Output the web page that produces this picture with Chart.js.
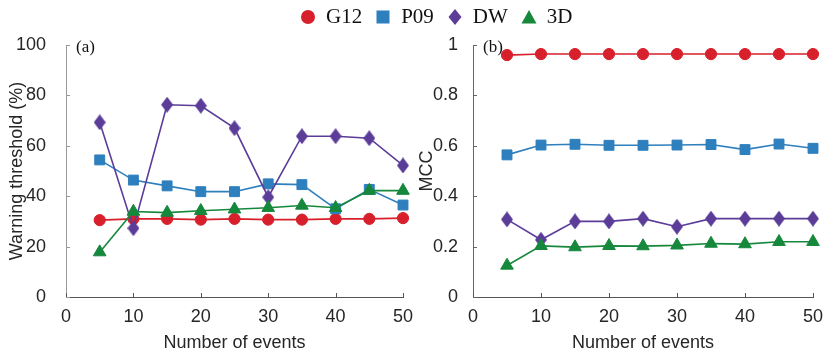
<!DOCTYPE html>
<html>
<head>
<meta charset="utf-8">
<script src="https://cdn.jsdelivr.net/npm/chart.js@4/dist/chart.umd.min.js"></script>
<style>
  html, body { margin: 0; padding: 0; background: #fff; }
  #wrap { position: relative; width: 830px; height: 356px; overflow: hidden; }
  #c1 { position: absolute; left: 0; top: 0; }
  #c2 { position: absolute; left: 415px; top: 0; }
  #legend { position: absolute; top: 4px; left: 300px; white-space: nowrap;
            font-family: "Liberation Serif", "Times New Roman", serif; font-size: 21px; color: #111; }
  #legend span.item { display: inline-flex; align-items: center; margin-right: 13px; }
  #legend svg { margin-right: 10px; }
</style>
</head>
<body>
<div id="wrap">
  <canvas id="c1" width="415" height="356"></canvas>
  <canvas id="c2" width="415" height="356"></canvas>
  <div id="legend"></div>
</div>
<script>
// ---- data ----
const events = [5, 10, 15, 20, 25, 30, 35, 40, 45, 50];
const seriesNames = ['G12', 'P09', 'DW', '3D'];

const thrG12 = [30.5, 31.0, 31.0, 30.7, 31.0, 30.7, 30.7, 31.0, 31.0, 31.3];
const thrP09 = [54.4, 46.4, 44.1, 41.8, 41.8, 44.9, 44.6, 35.0, 42.7, 36.5];
const thrDW  = [69.3, 27.3, 76.3, 75.9, 67.0, 39.6, 63.8, 63.8, 63.0, 52.2];
const thr3D  = [17.8, 33.9, 33.5, 34.2, 34.8, 35.4, 36.3, 35.4, 42.2, 42.2];

const mccG12 = [0.960, 0.964, 0.964, 0.964, 0.964, 0.964, 0.964, 0.964, 0.964, 0.964];
const mccP09 = [0.564, 0.603, 0.606, 0.602, 0.602, 0.603, 0.605, 0.585, 0.607, 0.590];
const mccDW  = [0.308, 0.227, 0.300, 0.300, 0.311, 0.279, 0.311, 0.311, 0.311, 0.311];
const mcc3D  = [0.125, 0.203, 0.198, 0.203, 0.202, 0.205, 0.212, 0.210, 0.219, 0.219];

const xTicks = [0, 10, 20, 30, 40, 50];
const thrTicks = [0, 20, 40, 60, 80, 100];
const mccTicks = [0, 0.2, 0.4, 0.6, 0.8, 1];

// ---- styles ----
const colors = { G12: '#d7202b', P09: '#2e7fbd', DW: '#5b3c98', '3D': '#16883c' };

function diamondCanvas(color) {
  const w = 12, h = 16;
  const c = document.createElement('canvas');
  c.width = w; c.height = h;
  const g = c.getContext('2d');
  g.fillStyle = color;
  g.beginPath();
  g.moveTo(w / 2, 0); g.lineTo(w, h / 2); g.lineTo(w / 2, h); g.lineTo(0, h / 2);
  g.closePath(); g.fill();
  return c;
}

const pointStyles = {
  G12: { pointStyle: 'circle', pointRadius: 5.6 },
  P09: { pointStyle: 'rect', pointRadius: 7 },
  DW:  { pointStyle: diamondCanvas(colors.DW), pointRadius: 7 },
  '3D': { pointStyle: 'triangle', pointRadius: 7.3 }
};
const drawOrder = { G12: 3, P09: 2, DW: 1, '3D': 0 };

function makeDatasets(valsByName) {
  return seriesNames.map(name => ({
    label: name,
    data: events.map((x, i) => ({ x: x, y: valsByName[name][i] })),
    borderColor: colors[name],
    backgroundColor: colors[name],
    pointBorderColor: colors[name],
    pointBackgroundColor: colors[name],
    borderWidth: 1.6,
    pointBorderWidth: 1,
    order: drawOrder[name],
    ...pointStyles[name]
  }));
}

const tickFont = { family: '"Liberation Sans", Arial, sans-serif', size: 18 };
const tickColor = '#262626';

// plugin: inward tick marks + panel label
const innerTicks = {
  id: 'innerTicks',
  afterDraw(chart, args, opts) {
    const ctx = chart.ctx;
    const xs = chart.scales.x, ys = chart.scales.y;
    const a = chart.chartArea;
    ctx.save();
    ctx.lineWidth = 1;
    ctx.strokeStyle = opts.xColor;
    opts.xTicks.forEach(v => {
      const px = Math.round(xs.getPixelForValue(v)) + 0.5;
      ctx.beginPath(); ctx.moveTo(px, a.bottom); ctx.lineTo(px, a.bottom - 4); ctx.stroke();
    });
    ctx.strokeStyle = opts.yColor;
    opts.yTicks.forEach(v => {
      const py = Math.round(ys.getPixelForValue(v)) + 0.5;
      ctx.beginPath(); ctx.moveTo(a.left, py); ctx.lineTo(a.left + 4, py); ctx.stroke();
    });
    ctx.fillStyle = '#111';
    ctx.font = '17px "Liberation Serif", "Times New Roman", serif';
    ctx.textBaseline = 'top';
    ctx.textAlign = 'left';
    ctx.fillText(opts.label, a.left + 10, a.top - 6);
    ctx.restore();
  }
};

function makeChart(id, datasets, cfg) {
  return new Chart(document.getElementById(id), {
    type: 'line',
    data: { datasets: datasets },
    plugins: [innerTicks],
    options: {
      responsive: false,
      animation: false,
      clip: false,
      layout: { padding: { left: cfg.padLeft, right: cfg.padRight, top: 45, bottom: 0 } },
      plugins: {
        legend: { display: false },
        tooltip: { enabled: false },
        innerTicks: { xTicks: xTicks, yTicks: cfg.yTicks, label: cfg.label,
                      xColor: '#555', yColor: cfg.yAxisColor }
      },
      scales: {
        x: {
          type: 'linear', min: 0, max: 50,
          afterBuildTicks: s => { s.ticks = xTicks.map(v => ({ value: v })); },
          afterFit: s => { s.height = 59; },
          grid: { display: false },
          border: { display: true, color: '#555', width: 1 },
          ticks: { font: tickFont, color: tickColor, padding: 1, maxRotation: 0 },
          title: { display: true, text: 'Number of events', font: tickFont, color: tickColor,
                   padding: { top: 0, bottom: 2 } }
        },
        y: {
          type: 'linear', min: cfg.yMin, max: cfg.yMax,
          afterBuildTicks: s => { s.ticks = cfg.yTicks.map(v => ({ value: v })); },
          afterFit: s => { s.width = cfg.yWidth; },
          grid: { display: false },
          border: { display: true, color: cfg.yAxisColor, width: 1 },
          ticks: { font: tickFont, color: tickColor, padding: cfg.yTickPad,
                   callback: v => String(v) },
          title: { display: true, text: cfg.yTitle, font: tickFont, color: tickColor,
                   padding: { top: cfg.yTitlePad, bottom: 0 } }
        }
      }
    }
  });
}

makeChart('c1',
  makeDatasets({ G12: thrG12, P09: thrP09, DW: thrDW, '3D': thr3D }),
  { padLeft: 0, padRight: 12, yMin: 0, yMax: 100, yTicks: thrTicks, yWidth: 66,
    yTickPad: 12, yTitle: 'Warning threshold (%)', yTitlePad: 6, label: '(a)', yAxisColor: '#999' });

makeChart('c2',
  makeDatasets({ G12: mccG12, P09: mccP09, DW: mccDW, '3D': mcc3D }),
  { padLeft: 0, padRight: 17, yMin: 0, yMax: 1, yTicks: mccTicks, yWidth: 58,
    yTickPad: 7, yTitle: 'MCC', yTitlePad: 1, label: '(b)', yAxisColor: '#666' });

// ---- HTML legend ----
function markerSvg(name) {
  const c = colors[name];
  let shape = '';
  if (name === 'G12') shape = `<circle cx="8" cy="8" r="7" fill="${c}"/>`;
  else if (name === 'P09') shape = `<rect x="1.5" y="1.5" width="13" height="13" fill="${c}"/>`;
  else if (name === 'DW') shape = `<polygon points="8,0 14.5,8 8,16 1.5,8" fill="${c}"/>`;
  else shape = `<polygon points="8,1 15.5,14.5 0.5,14.5" fill="${c}"/>`;
  return `<svg width="16" height="16" viewBox="0 0 16 16">${shape}</svg>`;
}
document.getElementById('legend').innerHTML = seriesNames.map(n =>
  `<span class="item">${markerSvg(n)}<span>${n}</span></span>`).join('');
</script>
</body>
</html>
